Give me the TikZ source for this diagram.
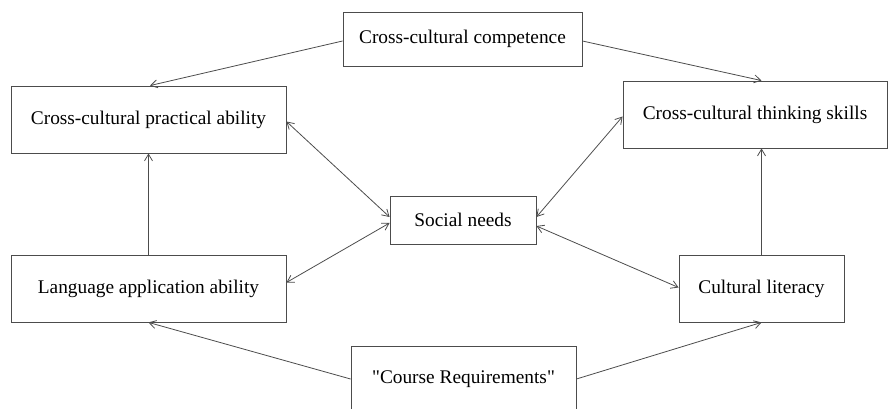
\documentclass[tikz,border=0pt]{standalone}
\usepackage{fontspec}
\setmainfont{Liberation Serif}[Ligatures=TeXOff]
\usetikzlibrary{arrows.meta,calc}
\begin{document}
\begin{tikzpicture}[x=0.75pt,y=-0.75pt,
  box/.style={draw=black!70,line width=0.65pt,rectangle,inner sep=0pt,align=center,font=\fontsize{14.5}{17}\selectfont},
  conn/.style={draw=black!70,line width=0.6pt,-{Straight Barb[length=5pt,width=6pt]}},
  dconn/.style={draw=black!70,line width=0.6pt,{Straight Barb[length=5pt,width=6pt]}-{Straight Barb[length=5pt,width=6pt]}}]
\useasboundingbox (0,0) rectangle (888,409);
\node[box,minimum width=239*0.75pt,minimum height=54*0.75pt] (top) at (462.5,39) {Cross-cultural competence};
\node[box,minimum width=225*0.75pt,minimum height=66*0.75pt] (bot) at (463.5,379) {"Course Requirements"};
\node[box,minimum width=275*0.75pt,minimum height=67*0.75pt] (lt) at (148.5,119.5) {Cross-cultural practical ability};
\node[box,minimum width=264*0.75pt,minimum height=67*0.75pt] (rt) at (755,114.5) {Cross-cultural thinking skills};
\node[box,minimum width=146*0.75pt,minimum height=48*0.75pt] (sn) at (463,220) {Social needs};
\node[box,minimum width=275*0.75pt,minimum height=67*0.75pt] (la) at (148.5,288.5) {Language application ability};
\node[box,minimum width=165*0.75pt,minimum height=67*0.75pt] (cl) at (761.5,288.5) {Cultural literacy};
\draw[conn] ($(top.west)+(0,2)$) -- ($(lt.north)+(1.5,0)$);
\draw[conn] ($(top.east)+(0,2)$) -- (rt.north -| cl.north);
\draw[conn] (la.north) -- (lt.south);
\draw[conn] (cl.north) -- (rt.south -| cl.north);
\draw[dconn] ($(lt.east)+(0,2)$) -- ($(sn.west)+(0,-3)$);
\draw[dconn] ($(la.east)+(0,-6)$) -- ($(sn.west)+(0,3)$);
\draw[dconn] ($(rt.west)+(0,2)$) -- ($(sn.east)+(0,-3)$);
\draw[dconn] ($(cl.west)+(0,-1)$) -- ($(sn.east)+(0,6)$);
\draw[conn] (bot.west) -- (la.south);
\draw[conn] (bot.east) -- (cl.south);
\end{tikzpicture}
\end{document}
